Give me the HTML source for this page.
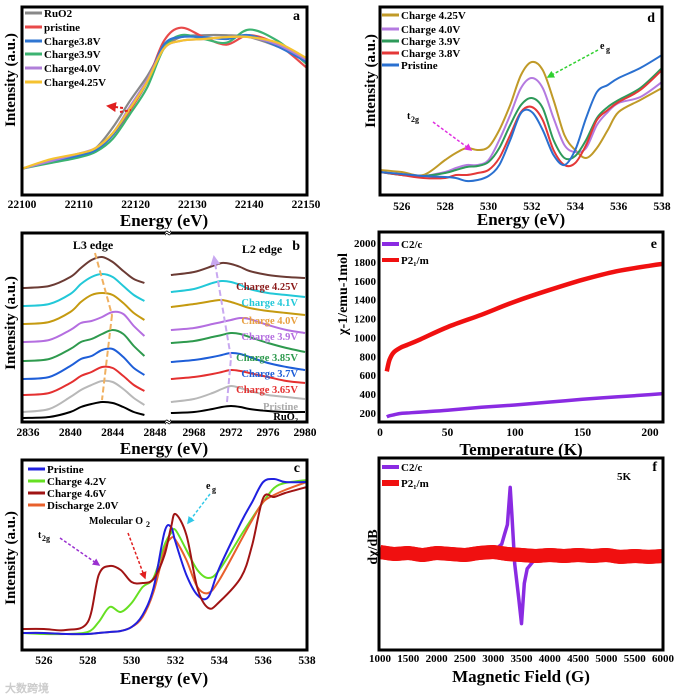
<!DOCTYPE html>
<html><head><meta charset="utf-8">
<style>
html,body{margin:0;padding:0;background:#fff;}
svg{display:block;font-family:"Liberation Serif",serif;font-weight:bold;}
</style></head>
<body>
<svg id="fig" width="680" height="694" viewBox="0 0 680 694" xmlns="http://www.w3.org/2000/svg">
<defs>
<clipPath id="cpa"><rect x="22" y="7" width="285" height="188"/></clipPath>
<clipPath id="cpbl"><rect x="22" y="233" width="144" height="189"/></clipPath>
<clipPath id="cpbr"><rect x="170" y="233" width="137" height="189"/></clipPath>
<clipPath id="cpc"><rect x="22" y="460" width="285" height="190"/></clipPath>
<clipPath id="cpd"><rect x="380" y="7" width="282" height="188"/></clipPath>
<clipPath id="cpe"><rect x="379" y="232" width="284" height="190"/></clipPath>
<clipPath id="cpf"><rect x="379" y="458" width="284" height="192"/></clipPath>
<marker id="ah" viewBox="0 0 10 10" refX="8" refY="5" markerWidth="5" markerHeight="5" orient="auto"><path d="M0,0L10,5L0,10z" fill="context-stroke"/></marker>
</defs>
<g id="layer"></g>
</svg>
<script>
// ---------- data panel a ----------
const aX=[22100,22105,22110,22113,22116,22119,22122,22125,22128,22132,22136,22140,22145,22150];
const aRuO2=[14,18,21,25,36,50,63,78,84,85,85,84,79,72];
const aPristine=[14,18,21,24,32,45,60,82,89,84,80,85,80,68];
const aC38=[14,18,21,24,32,46,60,80,84,84,83,85,79,71];
const aC39=[14,17,20,23,30,43,57,78,85,83,81,88,82,70];
const aC40=[14,18,22,25,33,47,61,78,82,83,84,84,80,72];
const aC425=[14,19,22,25,33,46,60,78,82,83,84,84,81,73];
const aTicks=[22100,22110,22120,22130,22140,22150];
// ---------- data panel b ----------
const bXL=[2835.5,2838,2840,2841,2842,2843,2844,2845,2846,2847];
const bXR=[2965.5,2968,2970,2971,2972,2973,2974,2976,2978,2980];
const bL425=[134,136,145,154,162,165,160,151,143,139];
const bL41=[116,118,128,138,145,148,145,136,127,121];
const bL40=[98,100,110,120,127,129,127,119,109,102];
const bL39=[80,82,92,99,101,105,110,108,96,86];
const bL385=[61,63,73,80,83,88,92,88,76,66];
const bL37=[43,45,56,63,66,72,73,65,54,47];
const bL365=[27,29,39,46,50,55,54,46,37,31];
const bLPri=[10,13,25,32,37,41,40,33,24,17];
const bLRu=[4,5,10,15,18,20,19,15,10,7];
const bR425=[147,150,156,159,158,155,151,147,145,144];
const bR41=[130,133,139,141,140,137,133,129,127,125];
const bR40=[115,118,121,122,120,117,114,111,109,107];
const bR39=[92,94,98,100,102,104,103,97,92,89];
const bR385=[79,81,85,87,89,88,85,79,74,70];
const bR37=[60,62,65,67,69,68,65,59,55,52];
const bR365=[43,45,48,50,52,51,49,45,41,39];
const bRPri=[20,23,29,33,36,34,31,27,25,23];
const bRRu=[9,10,13,15,16,15,13,11,10,10];
const bTicksL=[2836,2840,2844,2848];
const bTicksR=[2968,2972,2976,2980];
// ---------- data panel c ----------
const cX=[525,526,527,528,528.5,529,529.5,530,530.5,531,531.5,531.8,532,532.5,533,533.5,534,535,535.5,536,536.5,537,538];
const cPristine=[17,17,16,16,17,18,19,23,35,62,118,123,108,75,55,53,82,128,148,168,171,168,168];
const cC42=[17,16,16,18,28,43,38,47,63,72,105,117,120,100,80,72,80,115,132,148,162,167,170];
const cC46=[21,21,20,28,75,84,80,68,67,71,95,123,136,115,62,42,48,73,105,152,153,157,163];
const cD20=[17,17,16,16,17,18,19,23,33,58,100,112,110,90,63,57,70,110,130,148,155,160,168];
// ---------- data panel d ----------
const dX=[525,526,527,528,528.5,529,529.5,530,530.5,531,531.5,532,532.5,533,533.5,534,534.5,535,535.5,536,537,538];
const dC425=[25,23,20,35,42,47,45,48,65,90,120,133,125,95,60,45,37,47,65,83,95,107];
const dC40=[23,20,19,23,27,30,30,35,55,80,107,117,107,77,50,43,47,70,83,92,98,113];
const dC39=[23,20,19,22,25,28,29,33,47,70,90,97,87,55,37,39,55,77,88,95,107,127];
const dC38=[23,20,17,17,20,20,22,25,37,60,83,88,75,45,30,32,50,75,85,93,105,125];
const dPristine=[23,21,19,18,17,14,15,19,30,55,82,83,65,40,30,45,77,103,110,117,127,140];
const cdTicks=[526,528,530,532,534,536,538];
// ---------- data panel e ----------
const eT=[5,7,10,15,20,30,50,75,100,125,150,175,200,210];
const eP21m=[640,760,840,890,920,980,1110,1240,1380,1500,1610,1700,1760,1780];
const eC2c=[160,170,180,195,200,210,230,260,285,315,345,370,395,405];
const eXTicks=[0,50,100,150,200];
const eYTicks=[200,400,600,800,1000,1200,1400,1600,1800,2000];
// ---------- data panel f ----------
const fXC=[3050,3150,3200,3250,3300,3330,3380,3450,3500,3550,3600,3700,3800,3900,4000];
const fC2c=[5,10,20,30,68,40,-10,-45,-71,-30,-15,-8,-5,-3,-3];
const fXP=[1000,1250,1500,1750,2000,2250,2500,2750,3000,3250,3500,3750,4000,4250,4500,4750,5000,5250,5500,5750,6000];
const fP21m=[2,0,1,-1,1,0,-1,1,2,0,-1,-2,-1,-2,-1,-2,-1,-3,-2,-3,-2];
const fXTicks=[1000,1500,2000,2500,3000,3500,4000,4500,5000,5500,6000];

const NS="http://www.w3.org/2000/svg";
const layer=document.getElementById('layer');
function sc(d0,d1,r0,r1){return v=>r0+(v-d0)*(r1-r0)/(d1-d0);}
function smooth(pts){
  let d="M"+pts[0][0].toFixed(1)+","+pts[0][1].toFixed(1);
  for(let i=0;i<pts.length-1;i++){
    const p0=pts[Math.max(0,i-1)],p1=pts[i],p2=pts[i+1],p3=pts[Math.min(pts.length-1,i+2)];
    const c1=[p1[0]+(p2[0]-p0[0])/6,p1[1]+(p2[1]-p0[1])/6];
    const c2=[p2[0]-(p3[0]-p1[0])/6,p2[1]-(p3[1]-p1[1])/6];
    d+="C"+c1[0].toFixed(1)+","+c1[1].toFixed(1)+" "+c2[0].toFixed(1)+","+c2[1].toFixed(1)+" "+p2[0].toFixed(1)+","+p2[1].toFixed(1);
  }
  return d;
}
function series(xs,ys,X,Y,color,w,clip,name,straight){
  const pts=xs.map((x,i)=>[X(x),Y(ys[i])]);
  const p=document.createElementNS(NS,'path');
  p.setAttribute('d',straight?("M"+pts.map(q=>q[0].toFixed(1)+","+q[1].toFixed(1)).join("L")):smooth(pts));
  p.setAttribute('fill','none');p.setAttribute('stroke',color);p.setAttribute('stroke-width',w);
  p.setAttribute('stroke-linejoin','round');p.setAttribute('clip-path','url(#'+clip+')');
  
  
  layer.appendChild(p);return p;
}
function txt(x,y,s,size,opts){
  opts=opts||{};
  const t=document.createElementNS(NS,'text');
  t.setAttribute('x',x);t.setAttribute('y',y);t.setAttribute('font-size',size);
  t.setAttribute('fill',opts.fill||'#000');
  if(opts.anchor)t.setAttribute('text-anchor',opts.anchor);
  if(opts.rot)t.setAttribute('transform','rotate(-90 '+x+' '+y+')');
  t.textContent=s;
  
  
  layer.appendChild(t);return t;
}
function frame(x,y,w,h,name){
  const r=document.createElementNS(NS,'rect');
  r.setAttribute('x',x);r.setAttribute('y',y);r.setAttribute('width',w);r.setAttribute('height',h);
  r.setAttribute('fill','none');r.setAttribute('stroke','#000');r.setAttribute('stroke-width',3);
  
  
  layer.appendChild(r);
}
function ln(x1,y1,x2,y2,color,w,dash,name,arrow){
  const l=document.createElementNS(NS,'line');
  l.setAttribute('x1',x1);l.setAttribute('y1',y1);l.setAttribute('x2',x2);l.setAttribute('y2',y2);
  l.setAttribute('stroke',color);l.setAttribute('stroke-width',w);
  if(dash)l.setAttribute('stroke-dasharray',dash);
  if(arrow)l.setAttribute('marker-end','url(#ah)');
  
  
  layer.appendChild(l);
}
function legend(x,y,color,label,w,name){
  ln(x,y-4,x+17,y-4,color,w||3,null,name+'-swatch');
  txt(x+19,y,label,11,{name:name});
}

// ===== Panel a =====
{
const X=sc(22100,22150,22,306), Y=sc(0,100,195,7);
series(aX,aRuO2,X,Y,'#888','2.2','cpa','series-ruo2');
series(aX,aPristine,X,Y,'#e84a4a','2.2','cpa','series-pristine');
series(aX,aC39,X,Y,'#3cb371','2.2','cpa','series-charge-3-9v');
series(aX,aC38,X,Y,'#2f76d2','2.2','cpa','series-charge-3-8v');
series(aX,aC40,X,Y,'#b07fd9','2.2','cpa','series-charge-4-0v');
series(aX,aC425,X,Y,'#f5c230','2.2','cpa','series-charge-4-25v');
frame(22,7,285,188,'panel-a-frame');
aTicks.forEach(t=>txt(X(t),208,t,11.5,{anchor:'middle',name:'x-tick-label'}));
txt(164,226,'Energy (eV)',17,{anchor:'middle',name:'x-axis-title-a'});
txt(15,80,'Intensity (a.u.)',15,{anchor:'middle',rot:true,name:'y-axis-title-a'});
txt(300,20,'a',14,{anchor:'end',name:'panel-label-a'});
legend(25,17,'#888','RuO2',3,'legend-ruo2');
legend(25,31,'#e84a4a','pristine',3,'legend-pristine');
legend(25,45,'#2f76d2','Charge3.8V',3,'legend-charge-3-8v');
legend(25,58,'#3cb371','Charge3.9V',3,'legend-charge-3-9v');
legend(25,72,'#b07fd9','Charge4.0V',3,'legend-charge-4-0v');
legend(25,86,'#f5c230','Charge4.25V',3,'legend-charge-4-25v');
ln(123,108,108,106,'#e02020',2,'3,2','shift-arrow',true);
ln(120,112,131,110,'#e02020',2,'3,2','shift-arrow-2',false);
}
// ===== Panel b =====
{
const XL=sc(2836,2848,28,155), XR=sc(2968,2980,194,305), Y=sc(0,189,422,233);
const colors=['#6b3b34','#22c8d8','#c59a10','#b46ee0','#2e9a4e','#1e5ed8','#e43030','#b8b8b8','#000'];
const L=[bL425,bL41,bL40,bL39,bL385,bL37,bL365,bLPri,bLRu];
const R=[bR425,bR41,bR40,bR39,bR385,bR37,bR365,bRPri,bRRu];
const names=['4-25v','4-1v','4-0v','3-9v','3-85v','3-7v','3-65v','pristine','ruo2'];
L.forEach((s,i)=>series(bXL,s,XL,Y,colors[i],'2','cpbl','series-l3-'+names[i]));
R.forEach((s,i)=>series(bXR,s,XR,Y,colors[i],'2','cpbr','series-l2-'+names[i]));
frame(22,233,285,189,'panel-b-frame');
bTicksL.forEach(t=>txt(XL(t),436,t,11.5,{anchor:'middle',name:'x-tick-label'}));
bTicksR.forEach(t=>txt(XR(t),436,t,11.5,{anchor:'middle',name:'x-tick-label'}));
txt(164,454,'Energy (eV)',17,{anchor:'middle',name:'x-axis-title-b'});
txt(15,323,'Intensity (a.u.)',15,{anchor:'middle',rot:true,name:'y-axis-title-b'});
txt(300,250,'b',14,{anchor:'end',name:'panel-label-b'});
txt(93,249,'L3 edge',12,{anchor:'middle',name:'l3-edge-label'});
txt(262,253,'L2 edge',12,{anchor:'middle',name:'l2-edge-label'});
const lab=['Charge 4.25V','Charge 4.1V','Charge 4.0V','Charge 3.9V','Charge 3.85V','Charge 3.7V','Charge 3.65V','Pristine','RuO\u2082'];
const ly=[290,306,324,340,361,377,393,410,420];
lab.forEach((s,i)=>txt(298,ly[i],s,10.5,{anchor:'end',fill:(i===7?'#aaa':(i===0?'#8b1a1a':colors[i]==='#c59a10'?'#e8a040':colors[i])),name:'curve-label'}));
ln(95,253,112,315,'#f0b060',2,'6,3','l3-shift-line');
ln(112,315,102,400,'#f0b060',2,'6,3','l3-shift-line-2');
ln(231,358,214,257,'#c8a8f0',2,'6,3','l2-shift-arrow',true);
ln(227,402,231,358,'#c8a8f0',2,'6,3','l2-shift-line');
const br=document.createElementNS(NS,'rect');
br.setAttribute('x',165);br.setAttribute('y',229);br.setAttribute('width',6);br.setAttribute('height',8);br.setAttribute('fill','#fff');


layer.appendChild(br);
const br2=document.createElementNS(NS,'rect');
br2.setAttribute('x',165);br2.setAttribute('y',418);br2.setAttribute('width',6);br2.setAttribute('height',8);br2.setAttribute('fill','#fff');


layer.appendChild(br2);
txt(168,237,'\u2248',12,{anchor:'middle',name:'break-symbol-top'});
txt(168,426,'\u2248',12,{anchor:'middle',name:'break-symbol-bottom'});
}
// ===== Panel c =====
{
const X=sc(525,538,22,307), Y=sc(0,190,650,460);
series(cX,cC42,X,Y,'#66e022','2','cpc','series-charge-4-2v');
series(cX,cD20,X,Y,'#e8602c','2','cpc','series-discharge-2-0v');
series(cX,cPristine,X,Y,'#2020e0','2','cpc','series-pristine');
series(cX,cC46,X,Y,'#a01414','2','cpc','series-charge-4-6v');
frame(22,460,285,190,'panel-c-frame');
cdTicks.forEach(t=>txt(X(t),664,t,11.5,{anchor:'middle',name:'x-tick-label'}));
txt(164,684,'Energy (eV)',17,{anchor:'middle',name:'x-axis-title-c'});
txt(15,558,'Intensity (a.u.)',15,{anchor:'middle',rot:true,name:'y-axis-title-c'});
txt(300,472,'c',14,{anchor:'end',name:'panel-label-c'});
legend(28,473,'#2020e0','Pristine',3,'legend-pristine');
legend(28,485,'#66e022','Charge 4.2V',3,'legend-charge-4-2v');
legend(28,497,'#a01414','Charge 4.6V',3,'legend-charge-4-6v');
legend(28,509,'#e8602c','Discharge 2.0V',3,'legend-discharge-2-0v');
txt(38,538,'t',10,{name:'t2g-label'});txt(42,541,'2g',8,{name:'t2g-sub'});
ln(60,538,99,565,'#9a30d0',1.5,'3,2','t2g-arrow',true);
txt(89,524,'Molecular O',10,{name:'molecular-o2-label'});txt(146,527,'2',8,{name:'o2-sub'});
ln(128,533,145,578,'#e02020',1.5,'3,2','o2-arrow',true);
txt(206,489,'e',10,{name:'eg-label'});txt(212,492,'g',8,{name:'eg-sub'});
ln(210,494,188,523,'#30c8e8',1.5,'3,2','eg-arrow',true);
txt(5,692,'\u5927\u6570\u8de8\u5883',11,{fill:'#ccc',name:'watermark'});
}
// ===== Panel d =====
{
const X=sc(525,538,380,662), Y=sc(0,188,195,7);
series(dX,dC425,X,Y,'#c09a28','2','cpd','series-charge-4-25v');
series(dX,dC40,X,Y,'#b47ae0','2','cpd','series-charge-4-0v');
series(dX,dC39,X,Y,'#2e9a5a','2','cpd','series-charge-3-9v');
series(dX,dC38,X,Y,'#e43838','2','cpd','series-charge-3-8v');
series(dX,dPristine,X,Y,'#2a70d0','2','cpd','series-pristine');
frame(380,7,282,188,'panel-d-frame');
cdTicks.forEach(t=>txt(X(t),210,t,11.5,{anchor:'middle',name:'x-tick-label'}));
txt(521,225,'Energy (eV)',17,{anchor:'middle',name:'x-axis-title-d'});
txt(375,81,'Intensity (a.u.)',15,{anchor:'middle',rot:true,name:'y-axis-title-d'});
txt(655,22,'d',14,{anchor:'end',name:'panel-label-d'});
legend(382,19,'#c09a28','Charge 4.25V',3,'legend-charge-4-25v');
legend(382,33,'#b47ae0','Charge 4.0V',3,'legend-charge-4-0v');
legend(382,45,'#2e9a5a','Charge 3.9V',3,'legend-charge-3-9v');
legend(382,57,'#e43838','Charge 3.8V',3,'legend-charge-3-8v');
legend(382,69,'#2a70d0','Pristine',3,'legend-pristine');
txt(600,49,'e',10,{name:'eg-label'});txt(606,52,'g',8,{name:'eg-sub'});
ln(598,50,548,77,'#30d030',1.5,'3,2','eg-arrow',true);
txt(407,119,'t',10,{name:'t2g-label'});txt(411,122,'2g',8,{name:'t2g-sub'});
ln(433,122,471,150,'#e030e0',1.5,'3,2','t2g-arrow',true);
}
// ===== Panel e =====
{
const X=sc(0,200,380,650), Y=sc(200,2000,413,243);
series(eT,eC2c,X,Y,'#8a2be2','3.5','cpe','series-c2c');
series(eT,eP21m,X,Y,'#f01010','4.5','cpe','series-p21m');
frame(379,232,284,190,'panel-e-frame');
eXTicks.forEach(t=>txt(X(t),436,t,11.5,{anchor:'middle',name:'x-tick-label'}));
eYTicks.forEach(t=>txt(376,Y(t)+4,t,11,{anchor:'end',name:'y-tick-label'}));
txt(521,455,'Temperature (K)',17,{anchor:'middle',name:'x-axis-title-e'});
txt(347,294,'\u03c7-1/emu-1mol',14,{anchor:'middle',rot:true,name:'y-axis-title-e'});
txt(657,248,'e',14,{anchor:'end',name:'panel-label-e'});
legend(382,248,'#8a2be2','C2/c',4,'legend-c2c');
legend(382,264,'#f01010','P2\u2081/m',4,'legend-p21m');
}
// ===== Panel f =====
{
const X=sc(1000,6000,380,663), Y=sc(-100,100,652,456);
series(fXC,fC2c,X,Y,'#8a2be2','3.5','cpf','series-c2c',true);
series(fXP,fP21m,X,Y,'#f01010','14','cpf','series-p21m',true);
series(fXP,fP21m,X,Y,'#f01010','14','cpf','series-p21m-noise',false);
frame(379,458,284,192,'panel-f-frame');
fXTicks.forEach(t=>txt(X(t),662,t,11,{anchor:'middle',name:'x-tick-label'}));
txt(521,682,'Magnetic Field (G)',17,{anchor:'middle',name:'x-axis-title-f'});
txt(377,547,'d\u03c7/dB',14,{anchor:'middle',rot:true,name:'y-axis-title-f'});
txt(657,471,'f',14,{anchor:'end',name:'panel-label-f'});
txt(624,480,'5K',11,{anchor:'middle',name:'temperature-label'});
legend(382,471,'#8a2be2','C2/c',4,'legend-c2c');
legend(382,487,'#f01010','P2\u2081/m',6,'legend-p21m');
}
</script>
</body></html>
